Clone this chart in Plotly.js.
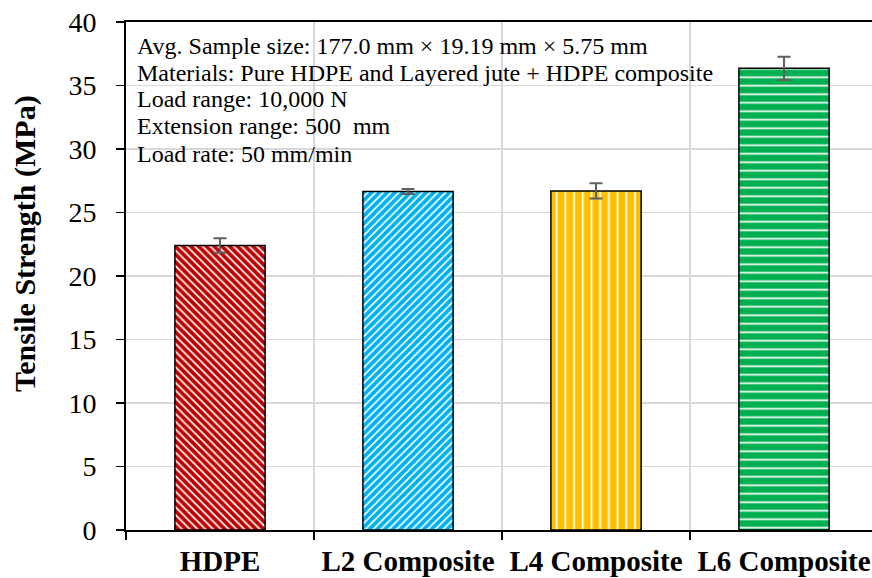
<!DOCTYPE html>
<html>
<head>
<meta charset="utf-8">
<script src="https://cdn.plot.ly/plotly-3.0.1.min.js"></script>
<style>html,body{margin:0;padding:0;background:#fff;}#chart{width:872px;height:578px;}</style>
</head>
<body>
<div id="chart"></div>
<script>
const categories = ["HDPE", "L2 Composite", "L4 Composite", "L6 Composite"];
const strengthValues = [22.4, 26.65, 26.7, 36.35];
const strengthErrors = [0.57, 0.2, 0.6, 0.92];
const barColors = ["#C00000", "#00B0F0", "#FFC000", "#00B050"];
const barPatterns = ["\\", "/", "|", "-"];
const yTickValues = [0, 5, 10, 15, 20, 25, 30, 35, 40];
const infoLines = [
  "Avg. Sample size: 177.0 mm × 19.19 mm × 5.75 mm",
  "Materials: Pure HDPE and Layered jute + HDPE composite",
  "Load range: 10,000 N",
  "Extension range: 500  mm",
  "Load rate: 50 mm/min"
];
const yTitle = "Tensile Strength (MPa)";

const serif = "'Liberation Serif', 'Times New Roman', serif";

const trace = {
  type: "bar",
  x: categories,
  y: strengthValues,
  width: 0.48,
  marker: {
    color: "#ffffff",
    line: {color: "#000000", width: 1.5},
    pattern: {
      shape: barPatterns,
      bgcolor: barColors,
      fgcolor: "#ffffff",
      fgopacity: 1,
      size: [5.5, 5.5, 8.7, 8.5],
      solidity: [0.3, 0.3, 0.2, 0.2],
      fillmode: "replace"
    }
  },
  error_y: {
    type: "data",
    array: strengthErrors,
    visible: true,
    color: "#5f5f5f",
    thickness: 2,
    width: 6.5
  },
  hoverinfo: "x+y"
};

const plotTop = 22, plotBottom = 530;
const lineCenters = [46, 73, 99.5, 126, 154];
const annotations = infoLines.map((t, i) => ({
  text: t,
  xref: "paper", yref: "paper",
  x: 0, y: 1 - (lineCenters[i] - plotTop) / (plotBottom - plotTop),
  xanchor: "left", yanchor: "middle",
  xshift: 9,
  showarrow: false,
  align: "left",
  font: {family: serif, size: 24, color: "#000"}
}));
annotations.push({
  text: "<b>" + yTitle + "</b>",
  xref: "paper", yref: "paper",
  x: 0, y: 1 - (244 - plotTop) / (plotBottom - plotTop),
  xanchor: "center", yanchor: "middle",
  xshift: -101,
  textangle: -90,
  showarrow: false,
  font: {family: serif, size: 30, color: "#000"}
});

const layout = {
  width: 872, height: 578,
  margin: {l: 126, r: 0, t: plotTop, b: 578 - plotBottom, pad: 0},
  paper_bgcolor: "#fff",
  plot_bgcolor: "#fff",
  showlegend: false,
  font: {family: serif},
  xaxis: {
    type: "category",
    range: [-0.5, 3.468],
    tickson: "boundaries",
    ticks: "outside",
    ticklen: 8,
    tickwidth: 1.5,
    tickcolor: "#000",
    showline: true,
    linecolor: "#000",
    linewidth: 2,
    mirror: true,
    showgrid: true,
    gridcolor: "#d9d9d9",
    gridwidth: 1.5,
    ticklabelstandoff: 4,
    tickfont: {family: serif, size: 29, color: "#000", weight: "bold"},
    fixedrange: true
  },
  yaxis: {
    range: [0, 40],
    tickvals: yTickValues,
    ticktext: yTickValues.map(String),
    ticks: "outside",
    ticklen: 8,
    tickwidth: 1.5,
    tickcolor: "#000",
    showline: true,
    linecolor: "#000",
    linewidth: 2,
    showgrid: true,
    gridcolor: "#d9d9d9",
    gridwidth: 1.5,
    zeroline: false,
    ticklabelstandoff: 14,
    tickfont: {family: serif, size: 28, color: "#000"},
    fixedrange: true
  },
  annotations: annotations
};

Plotly.newPlot("chart", [trace], layout, {displayModeBar: false, staticPlot: true});
</script>
</body>
</html>
